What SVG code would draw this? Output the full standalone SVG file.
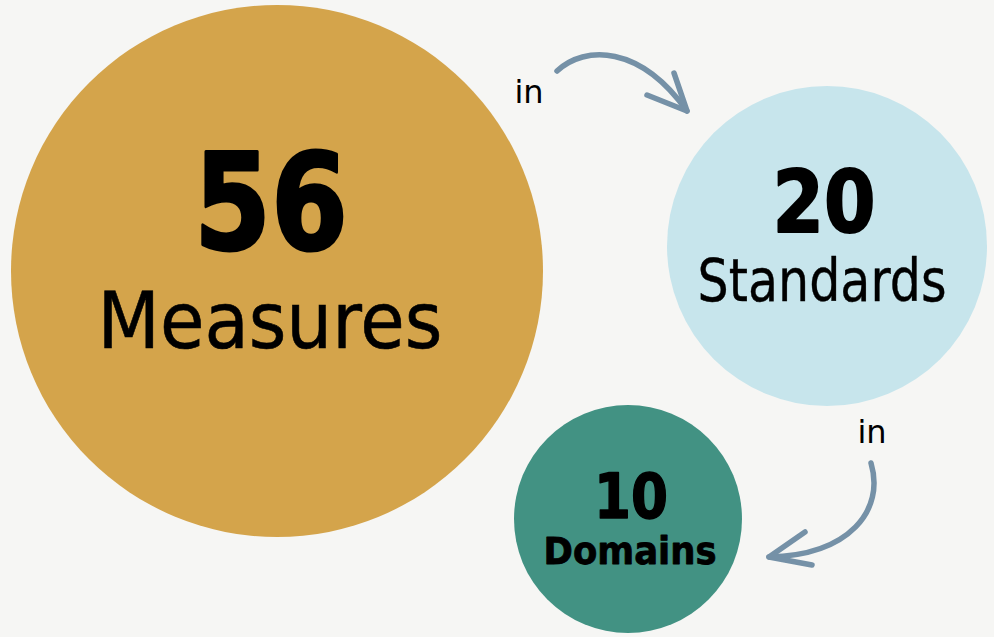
<svg xmlns="http://www.w3.org/2000/svg" width="994" height="637" viewBox="0 0 994 637">
<style>
.t{font-family:"DejaVu Sans","Liberation Sans",sans-serif;fill:#000;text-anchor:middle}
.b{font-weight:bold;stroke:#000;stroke-linejoin:round}
.arr{fill:none;stroke:#7591A7;stroke-width:5.5;stroke-linecap:round;stroke-linejoin:round}
</style>
<rect width="994" height="637" fill="#F6F6F4"/>
<g id="measures">
<circle cx="277" cy="271" r="266" fill="#D4A44B"/>
<text class="t b" x="271" y="249" font-size="133" stroke-width="3" textLength="154" lengthAdjust="spacingAndGlyphs">56</text>
<text class="t" x="270" y="348" font-size="79" stroke="#000" stroke-width="0.6" textLength="345" lengthAdjust="spacingAndGlyphs">Measures</text>
</g>
<g id="standards">
<circle cx="827" cy="246" r="160" fill="#C7E5EC"/>
<text class="t b" x="824" y="232" font-size="85" stroke-width="2" textLength="103" lengthAdjust="spacingAndGlyphs">20</text>
<text class="t" x="822" y="301" font-size="59" stroke="#000" stroke-width="0.4" textLength="249" lengthAdjust="spacingAndGlyphs">Standards</text>
</g>
<g id="domains">
<circle cx="628" cy="519" r="114" fill="#429283"/>
<text class="t b" x="631" y="518" font-size="62" stroke-width="1.5" textLength="74" lengthAdjust="spacingAndGlyphs">10</text>
<text class="t b" x="630" y="564" font-size="37" stroke-width="0.8" textLength="173" lengthAdjust="spacingAndGlyphs">Domains</text>
</g>
<g id="connectors">
<text class="t" x="529" y="103" font-size="32">in</text>
<path class="arr" d="M557,71 C585,45 640,45 687,111"/>
<path class="arr" d="M647,95 L687,111 L674,73"/>
<text class="t" x="872" y="443" font-size="32">in</text>
<path class="arr" d="M871,463 C885,510 850,555 769,557"/>
<path class="arr" d="M805,532 L769,557 L812,565"/>
</g>
</svg>
